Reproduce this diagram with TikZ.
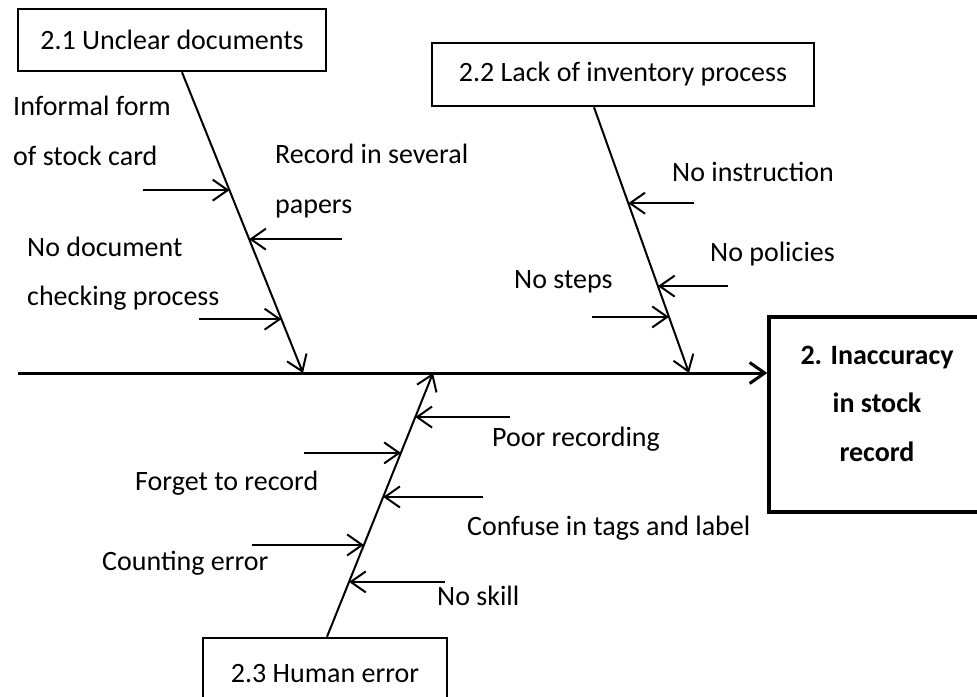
\documentclass[tikz,border=0pt]{standalone}
\usepackage{fontspec}
\setmainfont{Carlito}
\usetikzlibrary{arrows.meta,calc}
\begin{document}
\begin{tikzpicture}[x=1pt,y=-1pt,
  every node/.style={font=\fontsize{28}{34}\selectfont},
  causebox/.style={draw, line width=2.5pt, inner sep=0pt},
  effectbox/.style={draw, line width=3.5pt, inner sep=0pt},
  lbl/.style={anchor=west, inner sep=0pt, text height=0.64em, text depth=0pt},
  barb/.style={-{Straight Barb[length=15pt,width=21pt]}},
  bone/.style={barb, line width=2pt},
  twig/.style={barb, line width=2pt},
  spine/.style={barb, line width=3pt}]
\useasboundingbox (0,0) rectangle (977,696);
\clip (0,0) rectangle (977,696);

% cause boxes and effect box
\node[causebox, minimum width=308, minimum height=62] (c1) at (172,40) {2.1 Unclear documents};
\node[causebox, minimum width=382, minimum height=63] (c2) at (623,74.5) {2.2 Lack of inventory process};
\node[causebox, minimum width=244, minimum height=72] (c3) at (325,674) {2.3 Human error};
\node[effectbox, minimum width=216, minimum height=195] (eff) at (877,414.5) {};
\node[align=center, inner sep=0pt, font=\bfseries\fontsize{28}{48.5}\selectfont] (efftext) at (877,403.5)
  {2. Inaccuracy\\in stock\\record};

% spine
\coordinate (tail) at (18,373);
\draw[spine] (tail) -- (tail -| eff.west);

% main bones
\coordinate (r1) at ([xshift=10pt]c1.south);
\coordinate (h1) at (303,373);
\coordinate (r2) at ([xshift=-29pt]c2.south);
\coordinate (h2) at (689,373);
\coordinate (r3) at ([xshift=2pt]c3.north);
\coordinate (h3) at (433,373);
\draw[bone] (r1) -- (h1);
\draw[bone] (r2) -- (h2);
\draw[bone] (r3) -- (h3);

% sub-causes on bone 2.1
\coordinate (p11) at ($(r1)!0.392!(h1)$);
\coordinate (p12) at ($(r1)!0.555!(h1)$);
\coordinate (p13) at ($(r1)!0.821!(h1)$);
\coordinate (q11) at ($(p11)+(-86,0)$);
\coordinate (q12) at ($(p12)+(93,0)$);
\coordinate (q13) at ($(p13)+(-82,0)$);
\draw[twig] (q11) -- (p11);
\draw[twig] (q12) -- (p12);
\draw[twig] (q13) -- (p13);

% sub-causes on bone 2.2
\coordinate (p21) at ($(r2)!0.361!(h2)$);
\coordinate (p22) at ($(r2)!0.673!(h2)$);
\coordinate (p23) at ($(r2)!0.789!(h2)$);
\coordinate (q21) at ($(p21)+(66,0)$);
\coordinate (q22) at ($(p22)+(70,0)$);
\coordinate (q23) at ($(p23)+(-77,0)$);
\draw[twig] (q21) -- (p21);
\draw[twig] (q22) -- (p22);
\draw[twig] (q23) -- (p23);

% sub-causes on bone 2.3
\coordinate (p31) at ($(r3)!0.833!(h3)$);
\coordinate (p32) at ($(r3)!0.697!(h3)$);
\coordinate (p33) at ($(r3)!0.530!(h3)$);
\coordinate (p34) at ($(r3)!0.348!(h3)$);
\coordinate (p35) at ($(r3)!0.208!(h3)$);
\coordinate (q31) at ($(p31)+(95,0)$);
\coordinate (q32) at ($(p32)+(-97,0)$);
\coordinate (q33) at ($(p33)+(100,0)$);
\coordinate (q34) at ($(p34)+(-112,0)$);
\coordinate (q35) at ($(p35)+(96,0)$);
\draw[twig] (q31) -- (p31);
\draw[twig] (q32) -- (p32);
\draw[twig] (q33) -- (p33);
\draw[twig] (q34) -- (p34);
\draw[twig] (q35) -- (p35);

% labels
\node[lbl] (l1a) at (13,112) {Informal form};
\node[lbl] (l1b) at (13,162) {of stock card};
\node[lbl] (l2a) at (275,160) {Record in several};
\node[lbl] (l2b) at (275,210) {papers};
\node[lbl] (l3a) at (27,253) {No document};
\node[lbl] (l3b) at (27,302) {checking process};
\node[lbl] (l4) at (672,178) {No instruction};
\node[lbl] (l5) at (710,258) {No policies};
\node[lbl] (l6) at (514,285) {No steps};
\node[lbl] (l7) at (492,443) {Poor recording};
\node[lbl] (l8) at (135,487) {Forget to record};
\node[lbl] (l9) at (467,532) {Confuse in tags and label};
\node[lbl] (l10) at (102,567) {Counting error};
\node[lbl] (l11) at (437,602) {No skill};
\end{tikzpicture}
\end{document}
